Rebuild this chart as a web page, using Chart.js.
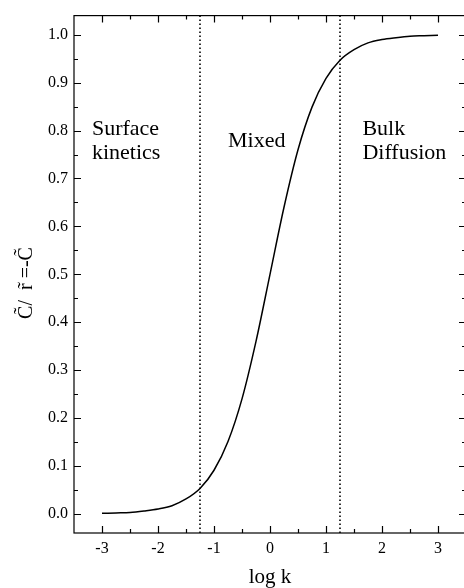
<!DOCTYPE html>
<html>
<head>
<meta charset="utf-8">
<script src="https://cdn.jsdelivr.net/npm/chart.js@4.4.1/dist/chart.umd.min.js"></script>
<style>
  html, body { margin: 0; padding: 0; background: #fff; overflow: hidden; }
  #wrap { width: 470px; height: 588px; }
</style>
</head>
<body>
<div id="wrap"><canvas id="chart" width="470" height="588"></canvas></div>
<script>
// values
const logK = [-3, -2.75, -2.5, -2.25, -2, -1.75, -1.5, -1.25, -1, -0.75, -0.5, -0.25,
              0, 0.25, 0.5, 0.75, 1, 1.25, 1.5, 1.75, 2, 2.25, 2.5, 2.75, 3];
const ratio = [0.001, 0.002, 0.003, 0.006, 0.010, 0.017, 0.031, 0.053, 0.091, 0.151, 0.240, 0.360,
               0.500, 0.640, 0.760, 0.849, 0.909, 0.947, 0.969, 0.983, 0.990, 0.994, 0.997, 0.998, 0.999];
const regionBounds = [-1.25, 1.25];
const xTicks = [-3, -2, -1, 0, 1, 2, 3];
const xMinorTicks = [-2.5, -1.5, -0.5, 0.5, 1.5, 2.5];
const yTicks = [0, 0.1, 0.2, 0.3, 0.4, 0.5, 0.6, 0.7, 0.8, 0.9, 1.0];
const yMinorTicks = [0.05, 0.15, 0.25, 0.35, 0.45, 0.55, 0.65, 0.75, 0.85, 0.95];
const regionNames = [['Surface', 'kinetics'], ['Mixed'], ['Bulk', 'Diffusion']];
const xRange = [-3.5, 3.5];
const yRange = [-0.04, 1.04];

// where each region name sits (data units, left edge / first baseline)
const namePlaces = [[-3.18, 0.791], [-0.75, 0.766], [1.65, 0.791]];

const serif = '"Liberation Serif", "DejaVu Serif", serif';

const boundSets = regionBounds.map(b => ({
    data: [{ x: b, y: yRange[0] }, { x: b, y: yRange[1] }],
    borderColor: '#000',
    borderWidth: 1.6,
    borderDash: [1.4, 2.6],
    pointRadius: 0,
    fill: false
}));

const framePlugin = {
    id: 'frame',
    afterDraw(chart) {
        const ctx = chart.ctx;
        const a = chart.chartArea;
        const xs = chart.scales.x, ys = chart.scales.y;
        ctx.save();
        ctx.strokeStyle = '#000';
        ctx.lineWidth = 1.2;
        ctx.strokeRect(a.left, a.top, a.right - a.left, a.bottom - a.top);

        ctx.beginPath();
        const tickX = (v, len) => {
            const px = Math.round(xs.getPixelForValue(v)) + 0.5;
            ctx.moveTo(px, a.bottom); ctx.lineTo(px, a.bottom - len);
            ctx.moveTo(px, a.top); ctx.lineTo(px, a.top + len);
        };
        const tickY = (v, len) => {
            const py = Math.round(ys.getPixelForValue(v)) + 0.5;
            ctx.moveTo(a.left, py); ctx.lineTo(a.left + len, py);
            ctx.moveTo(a.right, py); ctx.lineTo(a.right - len, py);
        };
        xTicks.forEach(v => tickX(v, 7));
        xMinorTicks.forEach(v => tickX(v, 4));
        yTicks.forEach(v => tickY(v, 7));
        yMinorTicks.forEach(v => tickY(v, 4));
        ctx.stroke();

        ctx.fillStyle = '#000';
        ctx.font = '22px ' + serif;
        ctx.textAlign = 'left';
        ctx.textBaseline = 'alphabetic';
        regionNames.forEach((lines, i) => {
            const px = xs.getPixelForValue(namePlaces[i][0]);
            const py = ys.getPixelForValue(namePlaces[i][1]);
            lines.forEach((t, j) => ctx.fillText(t, px, py + j * 24));
        });

        ctx.font = '20px ' + serif;
        ctx.translate(27, 283);
        ctx.rotate(-Math.PI / 2);
        ctx.textAlign = 'center';
        ctx.textBaseline = 'middle';
        ctx.fillText('C\u0303/  r\u0303 =-C\u0303', 0, 0);
        ctx.restore();
    }
};

new Chart(document.getElementById('chart'), {
    type: 'line',
    data: {
        datasets: [{
            data: logK.map((x, i) => ({ x: x, y: ratio[i] })),
            borderColor: '#000',
            borderWidth: 1.5,
            pointRadius: 0,
            cubicInterpolationMode: 'monotone',
            fill: false
        }].concat(boundSets)
    },
    options: {
        responsive: false,
        animation: false,
        events: [],
        layout: { padding: { top: 13, right: 4, left: 0, bottom: 0 } },
        plugins: { legend: { display: false }, tooltip: { enabled: false } },
        scales: {
            x: {
                type: 'linear',
                min: xRange[0],
                max: xRange[1],
                afterBuildTicks: s => { s.ticks = xTicks.map(v => ({ value: v })); },
                afterFit: s => { s.height = 55; },
                grid: { display: false, drawTicks: false },
                border: { display: false },
                ticks: {
                    padding: 6,
                    color: '#000',
                    font: { family: serif, size: 16 },
                    callback: v => String(v)
                },
                title: {
                    display: true,
                    text: 'log k',
                    color: '#000',
                    font: { family: serif, size: 21, lineHeight: 1 },
                    padding: { top: 0, bottom: 0 }
                }
            },
            y: {
                type: 'linear',
                min: yRange[0],
                max: yRange[1],
                afterBuildTicks: s => { s.ticks = yTicks.map(v => ({ value: v })); },
                afterFit: s => { s.width = 74; },
                grid: { display: false, drawTicks: false },
                border: { display: false },
                ticks: {
                    padding: 6,
                    color: '#000',
                    font: { family: serif, size: 16 },
                    callback: v => v.toFixed(1)
                }
            }
        }
    },
    plugins: [framePlugin]
});
</script>
</body>
</html>
